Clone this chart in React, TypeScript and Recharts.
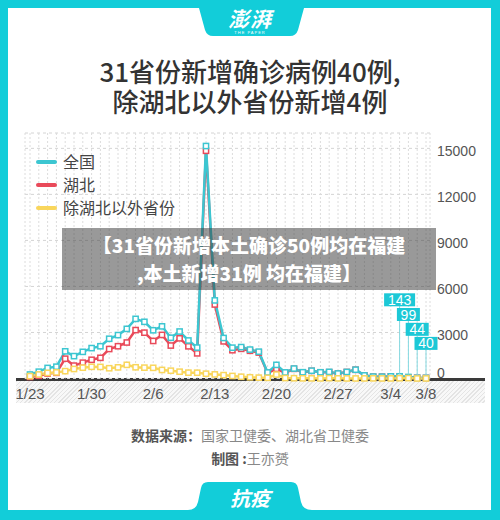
import React from 'react';
import { LineChart, Line, XAxis, YAxis, CartesianGrid, LabelList } from 'recharts';

const dates = [
  '1/23','1/24','1/25','1/26','1/27','1/28','1/29','1/30','1/31',
  '2/1','2/2','2/3','2/4','2/5','2/6','2/7','2/8','2/9','2/10','2/11','2/12','2/13','2/14','2/15','2/16','2/17','2/18','2/19','2/20','2/21','2/22','2/23','2/24','2/25','2/26','2/27','2/28','2/29',
  '3/1','3/2','3/3','3/4','3/5','3/6','3/7','3/8',
];
const national = [259,444,688,769,1771,1459,1737,1982,2102,2590,2829,3235,3887,3694,3143,3399,2656,3062,2478,2015,15152,5090,2641,2009,2048,1886,1749,394,889,397,648,409,508,406,433,327,427,573,202,125,119,139,143,99,44,40];
const hubei = [105,180,323,371,1291,840,1032,1220,1347,1921,2103,2345,3156,2987,2447,2841,2147,2618,2097,1638,14840,4823,2420,1843,1933,1807,1693,349,631,366,630,398,499,401,409,318,423,570,196,114,115,134,126,74,41,36];
const outside = [154,264,365,398,480,619,705,762,755,669,726,890,731,707,696,558,509,444,381,377,312,267,221,166,115,79,56,45,258,31,18,11,9,5,24,9,4,3,6,11,4,5,17,25,3,4];
const xTickLabels = ['1/23','1/30','2/6','2/13','2/20','2/27','3/4','3/8'];
const yTicks = [0,3000,6000,9000,12000,15000];
const calloutDates = ['3/5','3/6','3/7','3/8'];

const SERIES = [
  { key: 'national', name: '全国', color: '#3cc6d1' },
  { key: 'hubei', name: '湖北', color: '#e94a5a' },
  { key: 'outside', name: '除湖北以外省份', color: '#f9d65c' },
];
const DRAW_ORDER = ['hubei', 'national', 'outside'];
const FRAME = '#12cdd9';
const CJK = '"Noto Sans CJK SC", "Noto Sans", sans-serif';
const NUM = '"Liberation Sans", Arial, sans-serif';

const data = dates.map((d, i) => ({
  date: d,
  national: national[i],
  hubei: hubei[i],
  outside: outside[i],
}));

const squareDot = (color: string) => (props: any) => {
  const { cx, cy, index } = props;
  if (cx == null || cy == null) return <g key={`e${index}`} />;
  return (
    <rect key={`d${index}`} x={cx - 2.6} y={cy - 2.6} width={5.2} height={5.2}
      fill="#fff" stroke={color} strokeWidth={1.5} />
  );
};

const Callout = (props: any) => {
  const { x, y, value, index } = props;
  const k = calloutDates.indexOf(dates[index]);
  if (k < 0 || x == null || y == null) return null;
  const rank = calloutDates.length - 1 - k;
  const bottom = y - (28 + 14 * rank);
  const h = 13;
  const w = String(value).length * 8 + 7;
  return (
    <g>
      <line x1={x} x2={x} y1={y - 2.6} y2={bottom} stroke="#86d9e1" strokeWidth={1} />
      <rect x={x - w / 2} y={bottom - h} width={w} height={h} fill="#1cc8d6" />
      <text x={x} y={bottom - h / 2} dy="0.36em" textAnchor="middle" fill="#fff"
        fontSize={14} fontFamily={NUM}>{value}</text>
    </g>
  );
};

const XTick = (props: any) => {
  const { x, y, payload } = props;
  if (!xTickLabels.includes(payload.value)) return <g />;
  return (
    <text x={x} y={y + 15} dy="0.35em" textAnchor="middle" fill="#555" fontSize={15} fontFamily={NUM}>
      {payload.value}
    </text>
  );
};

const YTick = (props: any) => {
  const { x, y, payload } = props;
  return (
    <text x={x + 7} y={y + (payload.value === 0 ? -5 : 3)} dy="0.35em" textAnchor="start"
      fill="#555" fontSize={14} fontFamily={NUM}>
      {payload.value}
    </text>
  );
};

export default function App() {
  return (
    <div style={{ position: 'absolute', left: 0, top: 0, width: 500, height: 520, background: FRAME, overflow: 'hidden', fontFamily: CJK }}>
      <div style={{ position: 'absolute', left: 8, top: 8, width: 483, height: 502, background: '#fff' }} />
      <svg width={500} height={520} style={{ position: 'absolute', left: 0, top: 0 }}>
        <path d="M199 8 L304 8 L298 30 Q296 36 290 36 L213 36 Q207 36 205 30 Z" fill={FRAME} />
        <path d="M188 510 Q196 510 198 502 L201 488 Q202 482 208 482 L291 482 Q297 482 298 488 L301 502 Q303 510 312 510 Z" fill={FRAME} />
      </svg>
      <div style={{ position: 'absolute', left: 0, width: 500, top: 6, textAlign: 'center', color: '#fff', fontSize: 21, fontWeight: 700, fontStyle: 'italic', lineHeight: '24px', letterSpacing: 1 }}>澎湃</div>
      <div style={{ position: 'absolute', left: 0, width: 500, top: 31, textAlign: 'center', color: '#fff', fontSize: 4, lineHeight: '4px', letterSpacing: 1, fontFamily: NUM }}>THE PAPER</div>

      <div style={{ position: 'absolute', left: 0, width: 500, top: 56, textAlign: 'center', color: '#333', fontSize: 26, fontWeight: 500, lineHeight: '30px' }}>
        <div>31省份新增确诊病例40例,</div>
        <div>除湖北以外省份新增4例</div>
      </div>

      <div style={{ position: 'absolute', left: 16, top: 381, width: 469, height: 22,
        background: 'repeating-linear-gradient(135deg, #e4e4e4 0px, #e4e4e4 1px, #f8f8f8 1px, #f8f8f8 3px)' }} />
      <div style={{ position: 'absolute', left: 16, top: 378, width: 469, height: 3, background: '#3a3a3a' }} />

      <div style={{ position: 'absolute', left: 0, top: 0 }}>
        <LineChart width={500} height={520} data={data}
          margin={{ top: 133, right: 10, bottom: 111.5, left: 25 }}>
          <CartesianGrid vertical={false} stroke="#d4d4d4" strokeDasharray="3 3" />
          <CartesianGrid horizontal={false} stroke="#dcdcdc" strokeDasharray="2 2" />
          <XAxis dataKey="date" interval={0} tick={<XTick />} tickLine={false} axisLine={false}
            tickSize={0} tickMargin={0} height={30} padding={{ left: 5, right: 4 }} />
          <YAxis orientation="right" domain={[0, 16000]} ticks={yTicks} tick={<YTick />} width={60}
            tickLine={false} axisLine={false} tickSize={0} tickMargin={0} />
          {DRAW_ORDER.map((k) => {
            const s = SERIES.find((q) => q.key === k)!;
            return (
              <Line key={s.key} type="linear" dataKey={s.key} name={s.name} stroke={s.color}
                strokeWidth={2.5} dot={squareDot(s.color)} activeDot={false} isAnimationActive={false}>
                {s.key === 'national' ? <LabelList dataKey="national" content={<Callout />} /> : null}
              </Line>
            );
          })}
        </LineChart>
      </div>

      <div style={{ position: 'absolute', left: 36, top: 150 }}>
        {SERIES.map((s) => (
          <div key={s.key} style={{ height: 23, display: 'flex', alignItems: 'center' }}>
            <div style={{ width: 21, height: 4, borderRadius: 2, background: s.color, marginRight: 6 }} />
            <span style={{ fontSize: 16, color: '#444', lineHeight: '23px' }}>{s.name}</span>
          </div>
        ))}
      </div>

      <div style={{ position: 'absolute', left: 62, top: 228, width: 374, height: 62, background: 'rgba(60,60,60,0.52)' }} />
      <div style={{ position: 'absolute', left: 62, top: 231, width: 374, textAlign: 'center', color: '#fff', fontSize: 19, fontWeight: 900, lineHeight: '28px' }}>
        <div>【31省份新增本土确诊50例均在福建</div>
        <div>,本土新增31例 均在福建】</div>
      </div>

      <div style={{ position: 'absolute', left: 0, width: 500, top: 425, textAlign: 'center', fontSize: 14, lineHeight: '20px' }}>
        <span style={{ color: '#555', fontWeight: 700 }}>数据来源：</span>
        <span style={{ color: '#888' }}>国家卫健委、湖北省卫健委</span>
      </div>
      <div style={{ position: 'absolute', left: 0, width: 500, top: 448, textAlign: 'center', fontSize: 14, lineHeight: '20px' }}>
        <span style={{ color: '#555', fontWeight: 700 }}>制图 :</span>
        <span style={{ color: '#888' }}>王亦赟</span>
      </div>
      <div style={{ position: 'absolute', left: 0, width: 500, top: 486, textAlign: 'center', color: '#fff', fontSize: 20, fontWeight: 700, fontStyle: 'italic', lineHeight: '24px' }}>抗疫</div>
    </div>
  );
}
